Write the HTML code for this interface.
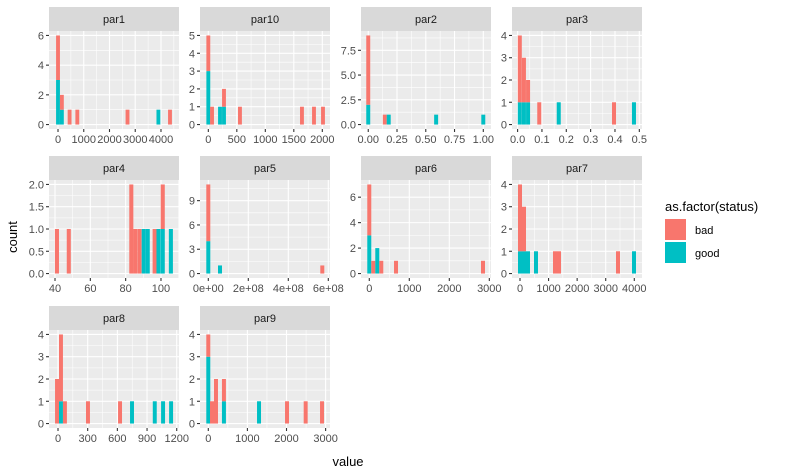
<!DOCTYPE html>
<html><head><meta charset="utf-8"><style>
html,body{margin:0;padding:0;background:#fff}
svg{display:block;font-family:"Liberation Sans",Arial,sans-serif}
</style></head><body>
<svg id="chart" width="786" height="475" viewBox="0 0 786 475" xmlns="http://www.w3.org/2000/svg">
<text x="348" y="466" font-size="13" fill="#000" text-anchor="middle">value</text>
<text x="0" y="0" font-size="13" fill="#000" text-anchor="middle" transform="translate(17,237) rotate(-90)">count</text>
<g>
<text x="665" y="211" font-size="13" fill="#000">as.factor(status)</text>
<rect x="665" y="219" width="21" height="21" fill="#F8766D"/>
<text x="695" y="234" font-size="11" fill="#000">bad</text>
<rect x="665" y="242" width="21" height="21" fill="#00BFC4"/>
<text x="695" y="257" font-size="11" fill="#000">good</text>
</g>
</svg>
<script>
// ---- data ----
const par1Centers=[0,150,450,750,2700,3900,4350];
const par1Good=[3,1,0,0,0,1,0];
const par1Bad=[3,1,1,1,1,0,1];
const par1XTicks=[0,1000,2000,3000,4000];
const par1XLabels=["0","1000","2000","3000","4000"];
const par1YTicks=[0,2,4,6];
const par1YLabels=["0","2","4","6"];

const par10Centers=[0,65,205,275,555,1643,1854,2012];
const par10Good=[3,0,1,1,0,0,0,0];
const par10Bad=[2,1,0,1,1,1,1,1];
const par10XTicks=[0,500,1000,1500,2000];
const par10XLabels=["0","500","1000","1500","2000"];
const par10YTicks=[0,1,2,3,4,5];
const par10YLabels=["0","1","2","3","4","5"];

const par2Centers=[0,0.144,0.178,0.59,1.0];
const par2Good=[2,0,1,1,1];
const par2Bad=[7,1,0,0,0];
const par2XTicks=[0,0.25,0.5,0.75,1];
const par2XLabels=["0.00","0.25","0.50","0.75","1.00"];
const par2YTicks=[0,2.5,5,7.5];
const par2YLabels=["0.0","2.5","5.0","7.5"];

const par3Centers=[0.009,0.026,0.043,0.089,0.169,0.396,0.478];
const par3Good=[1,1,1,0,1,0,1];
const par3Bad=[3,2,1,1,0,1,0];
const par3XTicks=[0,0.1,0.2,0.3,0.4,0.5];
const par3XLabels=["0.0","0.1","0.2","0.3","0.4","0.5"];
const par3YTicks=[0,1,2,3,4];
const par3YLabels=["0","1","2","3","4"];

const par4Centers=[41.1,47.8,83.2,85.4,87.8,90.2,92.5,96.4,98.6,101,105.6];
const par4Good=[0,0,0,0,0,1,1,0,1,1,1];
const par4Bad=[1,1,2,1,1,0,0,1,0,1,0];
const par4XTicks=[40,60,80,100];
const par4XLabels=["40","60","80","100"];
const par4YTicks=[0,0.5,1,1.5,2];
const par4YLabels=["0.0","0.5","1.0","1.5","2.0"];

const par5Centers=[0,0.585e8,5.7e8];
const par5Good=[4,1,0];
const par5Bad=[7,0,1];
const par5XTicks=[0,2e8,4e8,6e8];
const par5XLabels=["0e+00","2e+08","4e+08","6e+08"];
const par5YTicks=[0,3,6,9];
const par5YLabels=["0","3","6","9"];

const par6Centers=[0,100,200,300,668,2842];
const par6Good=[3,0,2,0,0,0];
const par6Bad=[4,1,0,1,1,1];
const par6XTicks=[0,1000,2000,3000];
const par6XLabels=["0","1000","2000","3000"];
const par6YTicks=[0,2,4,6];
const par6YLabels=["0","2","4","6"];

const par7Centers=[0,140,280,560,1225,1365,3430,3990];
const par7Good=[1,1,1,1,0,0,0,1];
const par7Bad=[3,2,0,0,1,1,1,0];
const par7XTicks=[0,1000,2000,3000,4000];
const par7XLabels=["0","1000","2000","3000","4000"];
const par7YTicks=[0,1,2,3,4];
const par7YLabels=["0","1","2","3","4"];

const par8Centers=[-10,30,70,303,627,748,978,1062,1143];
const par8Good=[0,1,0,0,0,1,1,1,1];
const par8Bad=[2,3,1,1,1,0,0,0,0];
const par8XTicks=[0,300,600,900,1200];
const par8XLabels=["0","300","600","900","1200"];
const par8YTicks=[0,1,2,3,4];
const par8YLabels=["0","1","2","3","4"];

const par9Centers=[0,95,197,400,1297,2013,2490,2908];
const par9Good=[3,0,0,1,1,0,0,0];
const par9Bad=[1,1,2,1,0,1,1,1];
const par9XTicks=[0,1000,2000,3000];
const par9XLabels=["0","1000","2000","3000"];
const par9YTicks=[0,1,2,3,4];
const par9YLabels=["0","1","2","3","4"];

// ---- layout ----
const panels=[
 {name:"par1",left:49,top:7,d0:-350,d1:4700,bw:150,ymax:6,c:par1Centers,g:par1Good,b:par1Bad,xt:par1XTicks,xl:par1XLabels,yt:par1YTicks,yl:par1YLabels},
 {name:"par10",left:200,top:7,d0:-146,d1:2135,bw:68,ymax:5,c:par10Centers,g:par10Good,b:par10Bad,xt:par10XTicks,xl:par10XLabels,yt:par10YTicks,yl:par10YLabels},
 {name:"par2",left:361,top:7,d0:-0.063,d1:1.067,bw:0.0345,ymax:9,c:par2Centers,g:par2Good,b:par2Bad,xt:par2XTicks,xl:par2XLabels,yt:par2YTicks,yl:par2YLabels},
 {name:"par3",left:512,top:7,d0:-0.023,d1:0.511,bw:0.0165,ymax:4,c:par3Centers,g:par3Good,b:par3Bad,xt:par3XTicks,xl:par3XLabels,yt:par3YTicks,yl:par3YLabels},
 {name:"par4",left:49,top:156,d0:36.6,d1:110.2,bw:2.3,ymax:2,c:par4Centers,g:par4Good,b:par4Bad,xt:par4XTicks,xl:par4XLabels,yt:par4YTicks,yl:par4YLabels},
 {name:"par5",left:200,top:156,d0:-0.415e8,d1:6.085e8,bw:0.2e8,ymax:11,c:par5Centers,g:par5Good,b:par5Bad,xt:par5XTicks,xl:par5XLabels,yt:par5YTicks,yl:par5YLabels},
 {name:"par6",left:361,top:156,d0:-207,d1:3042,bw:100,ymax:7,c:par6Centers,g:par6Good,b:par6Bad,xt:par6XTicks,xl:par6XLabels,yt:par6YTicks,yl:par6YLabels},
 {name:"par7",left:512,top:156,d0:-280,d1:4270,bw:140,ymax:4,c:par7Centers,g:par7Good,b:par7Bad,xt:par7XTicks,xl:par7XLabels,yt:par7YTicks,yl:par7YLabels},
 {name:"par8",left:49,top:306,d0:-91,d1:1223,bw:40,ymax:4,c:par8Centers,g:par8Good,b:par8Bad,xt:par8XTicks,xl:par8XLabels,yt:par8YTicks,yl:par8YLabels},
 {name:"par9",left:200,top:306,d0:-212,d1:3112,bw:102,ymax:4,c:par9Centers,g:par9Good,b:par9Bad,xt:par9XTicks,xl:par9XLabels,yt:par9YTicks,yl:par9YLabels}
];
const NS="http://www.w3.org/2000/svg";
const svg=document.getElementById("chart");
const W=130,SH=24,PH=98;
function mk(tag,attrs,parent){const e=document.createElementNS(NS,tag);for(const k in attrs)e.setAttribute(k,attrs[k]);parent.appendChild(e);return e;}
panels.forEach(p=>{
 const g=mk("g",{},svg);
 
 
 const pt=p.top+SH, pb=pt+PH;
 const xs=v=>p.left+(v-p.d0)/(p.d1-p.d0)*W;
 const lo=-0.05*p.ymax, hi=1.05*p.ymax;
 const ys=v=>pb-(v-lo)/(hi-lo)*PH;
 const strip=mk("rect",{x:p.left,y:p.top,width:W,height:SH,fill:"#D9D9D9"},g);
 
 
 const st=mk("text",{x:p.left+W/2,y:p.top+16,"font-size":11,fill:"#1A1A1A","text-anchor":"middle"},g);
 st.textContent=p.name;
 
 
 const bg=mk("rect",{x:p.left,y:pt,width:W,height:PH,fill:"#EBEBEB"},g);
 
 
 // minor grid
 const xstep=p.xt[1]-p.xt[0], ystep=p.yt[1]-p.yt[0];
 for(let v=p.xt[0]-xstep/2; v<=p.xt[p.xt.length-1]+xstep; v+=xstep){const X=xs(v); if(X>p.left&&X<p.left+W) mk("line",{x1:X,x2:X,y1:pt,y2:pb,stroke:"#fff","stroke-width":0.55},g);}
 for(let v=p.yt[0]-ystep/2; v<=p.yt[p.yt.length-1]+ystep; v+=ystep){const Y=ys(v); if(Y>pt&&Y<pb) mk("line",{x1:p.left,x2:p.left+W,y1:Y,y2:Y,stroke:"#fff","stroke-width":0.55},g);}
 p.xt.forEach((v,i)=>{const X=xs(v);
  mk("line",{x1:X,x2:X,y1:pt,y2:pb,stroke:"#fff","stroke-width":1.1},g);
  mk("line",{x1:X,x2:X,y1:pb,y2:pb+3,stroke:"#333","stroke-width":1.1},g);
  const t=mk("text",{x:X,y:pb+14,"font-size":11,fill:"#4D4D4D","text-anchor":"middle"},g);
  t.textContent=p.xl[i];
  
  
 });
 p.yt.forEach((v,i)=>{const Y=ys(v);
  mk("line",{x1:p.left,x2:p.left+W,y1:Y,y2:Y,stroke:"#fff","stroke-width":1.1},g);
  mk("line",{x1:p.left-3,x2:p.left,y1:Y,y2:Y,stroke:"#333","stroke-width":1.1},g);
  const t=mk("text",{x:p.left-5,y:Y+4,"font-size":11,fill:"#4D4D4D","text-anchor":"end"},g);
  t.textContent=p.yl[i];
  
  
 });
 p.c.forEach((c,i)=>{
  const x0=xs(c-p.bw/2), x1=xs(c+p.bw/2);
  if(p.g[i]>0){const r=mk("rect",{x:x0,y:ys(p.g[i]),width:x1-x0,height:ys(0)-ys(p.g[i]),fill:"#00BFC4"},g);
   
   }
  if(p.b[i]>0){const tot=p.g[i]+p.b[i];const r=mk("rect",{x:x0,y:ys(tot),width:x1-x0,height:ys(p.g[i])-ys(tot),fill:"#F8766D"},g);
   
   }
 });
});
</script>
</body></html>
